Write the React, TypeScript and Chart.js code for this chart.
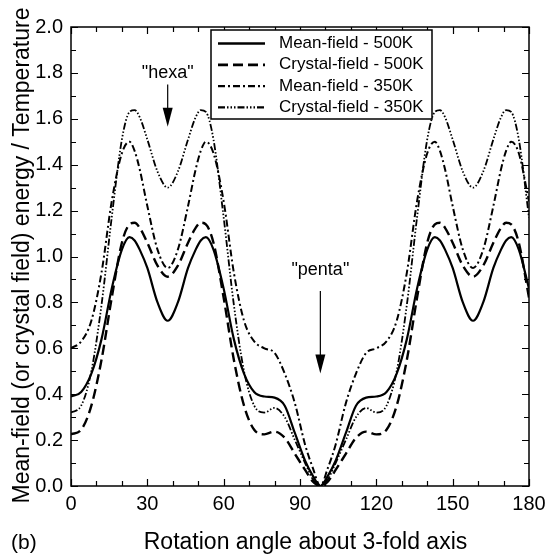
import React, { useEffect, useRef } from "react";
import { Chart, registerables } from "chart.js";
Chart.register(...registerables);

// Rotation angle (degrees) at which the curves were sampled
const angles = [0, 4, 8, 12, 16, 20, 23, 25, 27, 30, 34, 38, 42, 46, 49, 51, 53, 56, 60, 64, 68, 72, 76, 80, 84, 88, 92, 95, 98, 101, 104, 108, 112, 116, 120, 124, 128, 132, 136, 140, 143, 145, 147, 150, 154, 158, 162, 166, 169, 171, 173, 176, 180];

const meanField500 = [
  0.39, 0.41, 0.49, 0.64, 0.86, 1.03, 1.084, 1.07, 1.03, 0.95, 0.80, 0.72,
  0.80, 0.95, 1.03, 1.07, 1.084, 1.03, 0.86, 0.64, 0.49, 0.41, 0.39,
  0.385, 0.35, 0.23, 0.11, 0.045, 0,
  0.045, 0.11, 0.23, 0.35, 0.385, 0.39,
  0.41, 0.49, 0.64, 0.86, 1.03, 1.084, 1.07, 1.03, 0.95, 0.80, 0.72,
  0.80, 0.95, 1.03, 1.07, 1.084, 1.03, 0.86,
];

const crystalField500 = [
  0.225, 0.245, 0.35, 0.55, 0.82, 1.06, 1.14, 1.147, 1.125, 1.06, 0.96, 0.912,
  0.96, 1.06, 1.125, 1.147, 1.14, 1.06, 0.82, 0.55, 0.35, 0.245, 0.225,
  0.237, 0.21, 0.14, 0.07, 0.02, 0,
  0.02, 0.07, 0.14, 0.21, 0.237, 0.225,
  0.245, 0.35, 0.55, 0.82, 1.06, 1.14, 1.147, 1.125, 1.06, 0.96, 0.912,
  0.96, 1.06, 1.125, 1.147, 1.14, 1.06, 0.82,
];

const meanField350 = [
  0.60, 0.63, 0.72, 0.93, 1.24, 1.45, 1.50, 1.46, 1.38, 1.22, 1.03, 0.95,
  1.03, 1.22, 1.38, 1.46, 1.50, 1.45, 1.24, 0.93, 0.72, 0.63, 0.60,
  0.58, 0.49, 0.36, 0.18, 0.08, 0,
  0.08, 0.18, 0.36, 0.49, 0.58, 0.60,
  0.63, 0.72, 0.93, 1.24, 1.45, 1.50, 1.46, 1.38, 1.22, 1.03, 0.95,
  1.03, 1.22, 1.38, 1.46, 1.50, 1.45, 1.24,
];

const crystalField350 = [
  0.32, 0.35, 0.50, 0.79, 1.17, 1.51, 1.63, 1.638, 1.607, 1.51, 1.37, 1.30,
  1.37, 1.51, 1.607, 1.638, 1.63, 1.51, 1.17, 0.79, 0.50, 0.35, 0.32,
  0.34, 0.30, 0.20, 0.10, 0.03, 0,
  0.03, 0.10, 0.20, 0.30, 0.34, 0.32,
  0.35, 0.50, 0.79, 1.17, 1.51, 1.63, 1.638, 1.607, 1.51, 1.37, 1.30,
  1.37, 1.51, 1.607, 1.638, 1.63, 1.51, 1.17,
];

const seriesLabels = ["Mean-field - 500K", "Crystal-field - 500K", "Mean-field - 350K", "Crystal-field - 350K"];

const xTickLabels = [0, 30, 60, 90, 120, 150, 180];
const xMinorTicks = [10, 20, 40, 50, 70, 80, 100, 110, 130, 140, 160, 170];
const yTickLabels = [0, 0.2, 0.4, 0.6, 0.8, 1.0, 1.2, 1.4, 1.6, 1.8, 2.0];
const yMinorTicks = [0.1, 0.3, 0.5, 0.7, 0.9, 1.1, 1.3, 1.5, 1.7, 1.9];

const xTitle = "Rotation angle about 3-fold axis";
const yTitle = "Mean-field (or crystal field) energy / Temperature";
const panelLabel = "(b)";
const annotations = [
  { text: '"hexa"', x: 38, textY: 1.8, from: 1.75, to: 1.565 },
  { text: '"penta"', x: 98, textY: 0.94, from: 0.85, to: 0.49 },
];

const FONT = '"Liberation Sans", Arial, Helvetica, sans-serif';

const styles = [
  { dash: [], width: 2.2 },
  { dash: [10, 5], width: 2.4 },
  { dash: [7, 3, 2, 3], width: 2 },
  { dash: [7, 2, 1.5, 2, 1.5, 2, 1.5, 2], width: 1.8 },
];

const decorPlugin = {
  id: "decor",
  afterDatasetsDraw(chart: any) {
    const { ctx, chartArea: a, scales } = chart;
    const x = scales.x;
    const y = scales.y;
    ctx.save();
    ctx.strokeStyle = "#000";
    ctx.setLineDash([]);
    ctx.lineWidth = 1.5;
    ctx.strokeRect(a.left, a.top, a.right - a.left, a.bottom - a.top);
    ctx.lineWidth = 1.2;
    ctx.beginPath();
    const xt = [...xTickLabels.map((v) => [v, 7]), ...xMinorTicks.map((v) => [v, 5])];
    for (const [v, len] of xt) {
      const px = Math.round(x.getPixelForValue(v)) + 0.5;
      ctx.moveTo(px, a.bottom);
      ctx.lineTo(px, a.bottom - len);
      ctx.moveTo(px, a.top);
      ctx.lineTo(px, a.top + len);
    }
    const yt = [...yTickLabels.map((v) => [v, 7]), ...yMinorTicks.map((v) => [v, 5])];
    for (const [v, len] of yt) {
      const py = Math.round(y.getPixelForValue(v)) + 0.5;
      ctx.moveTo(a.left, py);
      ctx.lineTo(a.left + len, py);
      ctx.moveTo(a.right, py);
      ctx.lineTo(a.right - len, py);
    }
    ctx.stroke();

    // annotations with arrows
    ctx.fillStyle = "#000";
    ctx.font = `18px ${FONT}`;
    ctx.textAlign = "center";
    ctx.textBaseline = "middle";
    for (const an of annotations) {
      const px = x.getPixelForValue(an.x);
      ctx.fillText(an.text, px, y.getPixelForValue(an.textY));
      const y0 = y.getPixelForValue(an.from);
      const y1 = y.getPixelForValue(an.to);
      ctx.lineWidth = 1.2;
      ctx.beginPath();
      ctx.moveTo(px, y0);
      ctx.lineTo(px, y1 - 15);
      ctx.stroke();
      ctx.beginPath();
      ctx.moveTo(px - 5, y1 - 19);
      ctx.lineTo(px + 5, y1 - 19);
      ctx.lineTo(px, y1);
      ctx.closePath();
      ctx.fill();
    }

    // legend
    const lx = 211, ly = 30, lw = 221, lh = 89;
    ctx.fillStyle = "#fff";
    ctx.fillRect(lx, ly, lw, lh);
    ctx.lineWidth = 1.5;
    ctx.strokeStyle = "#000";
    ctx.strokeRect(lx, ly, lw, lh);
    ctx.font = `17px ${FONT}`;
    ctx.textAlign = "left";
    ctx.textBaseline = "middle";
    chart.data.datasets.forEach((ds: any, i: number) => {
      const ry = 43.5 + i * 21.3;
      ctx.setLineDash(styles[i].dash);
      ctx.lineWidth = styles[i].width + 0.3;
      ctx.beginPath();
      ctx.moveTo(218, ry);
      ctx.lineTo(265, ry);
      ctx.stroke();
      ctx.setLineDash([]);
      ctx.fillStyle = "#000";
      ctx.fillText(ds.label, 279, ry);
    });

    // titles
    ctx.font = `23px ${FONT}`;
    ctx.textAlign = "center";
    ctx.textBaseline = "alphabetic";
    ctx.fillText(xTitle, 305.5, 549);
    ctx.font = `21px ${FONT}`;
    ctx.textAlign = "left";
    ctx.fillText(panelLabel, 11, 549);
    ctx.save();
    ctx.translate(28.5, 255.5);
    ctx.rotate(-Math.PI / 2);
    ctx.font = `23px ${FONT}`;
    ctx.textAlign = "center";
    ctx.fillText(yTitle, 0, 0);
    ctx.restore();
    ctx.restore();
  },
};

export default function App() {
  const ref = useRef<HTMLCanvasElement>(null);
  useEffect(() => {
    document.body.style.margin = "0";
    const series = [meanField500, crystalField500, meanField350, crystalField350];
    const chart = new Chart(ref.current!, {
      type: "line",
      data: {
        datasets: series.map((vals, i) => ({
          label: seriesLabels[i],
          data: angles.map((a, j) => ({ x: a, y: vals[j] })),
          borderColor: "#000",
          borderWidth: styles[i].width,
          borderDash: styles[i].dash,
          pointRadius: 0,
          fill: false,
          cubicInterpolationMode: "monotone" as const,
        })),
      },
      options: {
        animation: false,
        responsive: false,
        devicePixelRatio: 1,
        layout: { padding: { left: 0, top: 27, right: 25, bottom: 0 } },
        plugins: { legend: { display: false }, tooltip: { enabled: false } },
        scales: {
          x: {
            type: "linear",
            min: 0,
            max: 180,
            afterFit: (s: any) => { s.height = 68; },
            afterBuildTicks: (s: any) => { s.ticks = xTickLabels.map((v) => ({ value: v })); },
            grid: { display: false, drawTicks: false },
            border: { display: false },
            ticks: { color: "#000", font: { family: FONT, size: 20 }, padding: 6, maxRotation: 0, autoSkip: false },
          },
          y: {
            type: "linear",
            min: 0,
            max: 2,
            afterFit: (s: any) => { s.width = 71; },
            afterBuildTicks: (s: any) => { s.ticks = yTickLabels.map((v) => ({ value: v })); },
            grid: { display: false, drawTicks: false },
            border: { display: false },
            ticks: {
              color: "#000",
              font: { family: FONT, size: 20 },
              padding: 8,
              autoSkip: false,
              callback: (v: any) => Number(v).toFixed(1),
            },
          },
        },
      },
      plugins: [decorPlugin],
    });
    return () => chart.destroy();
  }, []);
  return (
    <div style={{ position: "absolute", left: 0, top: 0, width: 554, height: 554, background: "#fff" }}>
      <canvas ref={ref} width={554} height={554} />
    </div>
  );
}
